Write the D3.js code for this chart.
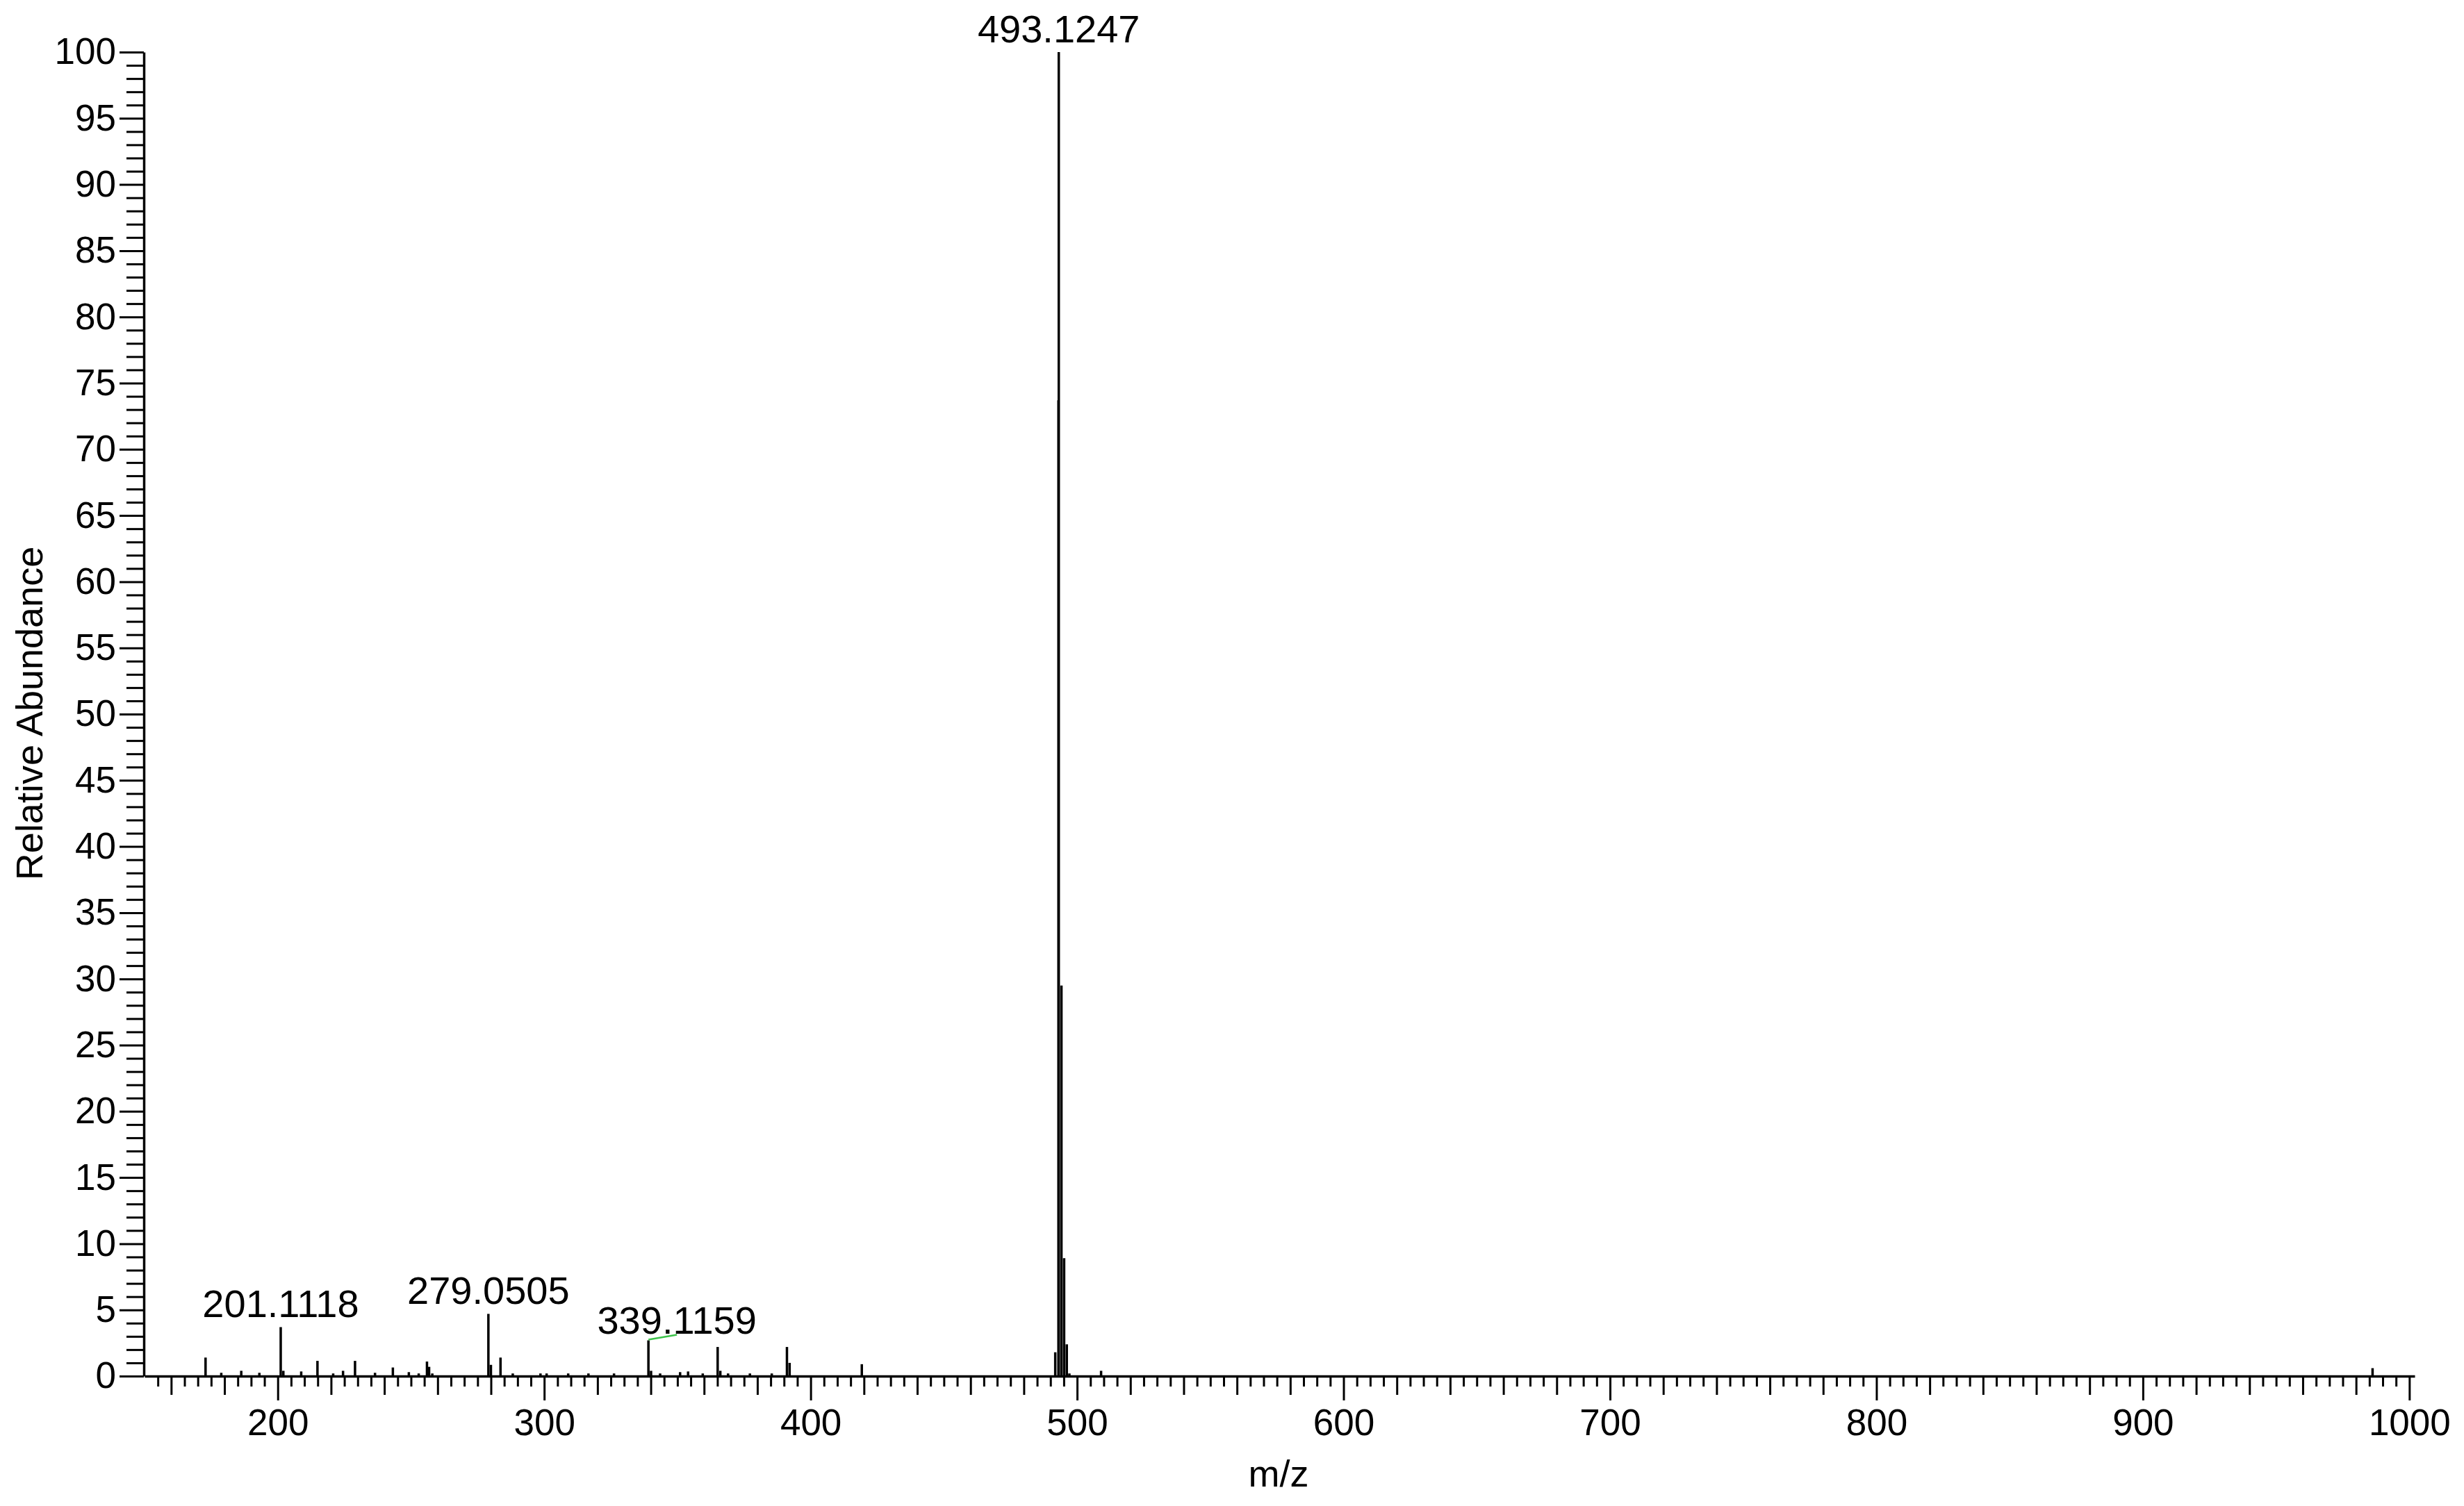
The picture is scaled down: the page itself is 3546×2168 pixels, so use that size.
<!DOCTYPE html>
<html>
<head>
<meta charset="utf-8">
<script src="https://cdn.jsdelivr.net/npm/d3@7"></script>
<style>
  body { margin: 0; background: #fff; }
  svg text { font-family: "Liberation Sans", Arial, Helvetica, sans-serif; fill: #000; }
</style>
</head>
<body>
<div id="chart"></div>
<script>
// spectrum sticks (m/z, relative abundance %)
const mzValues = [
  172.9, 178.8, 186.3, 193.1, 201.1118, 202.1, 208.8, 214.9, 220.8, 224.5,
  229.0, 236.5, 243.2, 249.2, 252.9, 256.0, 256.8, 258.0, 279.0505, 280.0,
  283.6, 288.2, 298.6, 300.9, 309.0, 316.6, 326.2, 339.1159, 340.1, 343.5,
  351.0, 354.0, 359.5, 365.1, 366.1, 369.0, 377.2, 385.4, 391.1, 392.1,
  419.2, 491.8, 493.0, 493.1247, 494.13, 495.13, 496.13, 497.1, 509.0, 986.2
];
const abundance = [
  1.4, 0.25, 0.4, 0.25, 3.7, 0.4, 0.35, 1.15, 0.2, 0.4,
  1.15, 0.25, 0.65, 0.3, 0.2, 1.1, 0.7, 0.2, 4.7, 0.85,
  1.4, 0.2, 0.2, 0.2, 0.2, 0.2, 0.2, 2.7, 0.4, 0.2,
  0.3, 0.35, 0.2, 2.2, 0.4, 0.2, 0.2, 0.2, 2.2, 1.0,
  0.9, 1.8, 73.7, 100, 29.5, 8.9, 2.4, 0.2, 0.4, 0.6
];
// peaks that carry an m/z label
const labelledMz = [201.1118, 279.0505, 339.1159, 493.1247];

const xMajorTicks = d3.range(200, 1001, 100);
const yMajorTicks = d3.range(0, 101, 5);

const width = 3546;
const height = 2168;

const svg = d3.select("#chart")
    .append("svg")
    .attr("width", width)
    .attr("height", height);

svg.append("rect").attr("width", width).attr("height", height).attr("fill", "#fff");

const x = d3.scaleLinear().domain([150, 1002]).range([208, 3475]);
const y = d3.scaleLinear().domain([0, 100]).range([1981, 75]);

const fontSize = 53;

// x axis: minor every 5, medium every 20, major every 100
const xMinor = d3.range(155, 1001, 5).filter(v => v % 20 !== 0 && v % 100 !== 0);
const xMedium = d3.range(160, 1001, 20).filter(v => v % 100 !== 0);

function styleAxis(g) {
    g.selectAll("path").attr("stroke", "#000").attr("stroke-width", 3.5);
    g.selectAll("line").attr("stroke", "#000").attr("stroke-width", 3);
}

svg.append("g")
    .attr("transform", `translate(0,${y(0)})`)
    .call(d3.axisBottom(x).tickValues(xMinor).tickSize(15).tickSizeOuter(0).tickFormat(""))
    .call(styleAxis);

svg.append("g")
    .attr("transform", `translate(0,${y(0)})`)
    .call(d3.axisBottom(x).tickValues(xMedium).tickSize(27).tickSizeOuter(0).tickFormat(""))
    .call(styleAxis)
    .select(".domain").remove();

const xAxis = svg.append("g")
    .attr("transform", `translate(0,${y(0)})`)
    .call(d3.axisBottom(x).tickValues(xMajorTicks).tickSize(35).tickPadding(12)
        .tickSizeOuter(0).tickFormat(d3.format("d")))
    .call(styleAxis);
xAxis.select(".domain").remove();
xAxis.selectAll("text").attr("font-size", fontSize).attr("font-family", null);

// y axis: minor every 1, major every 5
const yMinor = d3.range(0, 101, 1).filter(v => v % 5 !== 0);
svg.append("g")
    .attr("transform", `translate(${x(150) - 1},0)`)
    .call(d3.axisLeft(y).tickValues(yMinor).tickSize(25).tickSizeOuter(0).tickFormat(""))
    .call(styleAxis);

const yAxis = svg.append("g")
    .attr("transform", `translate(${x(150) - 1},0)`)
    .call(d3.axisLeft(y).tickValues(yMajorTicks).tickSize(35).tickPadding(5).tickSizeOuter(0))
    .call(styleAxis);
yAxis.select(".domain").remove();
yAxis.selectAll("text").attr("font-size", fontSize).attr("font-family", null);

// sticks
svg.append("g")
    .selectAll("line")
    .data(mzValues)
    .enter().append("line")
    .attr("x1", d => x(d))
    .attr("x2", d => x(d))
    .attr("y1", y(0))
    .attr("y2", (d, i) => y(abundance[i]))
    .attr("stroke", "#000")
    .attr("stroke-width", 3.5);

// peak labels
const fmt = d3.format(".4f");
labelledMz.forEach(function (mz) {
    const v = abundance[mzValues.indexOf(mz)];
    const px = x(mz), py = y(v);
    // the 339 label is pushed right of its peak with a leader line
    const shifted = mz === 339.1159;
    const dx = shifted ? 41 : 0;
    if (shifted) {
        svg.append("line")
            .attr("x1", px).attr("y1", py - 1)
            .attr("x2", px + dx).attr("y2", py - 8)
            .attr("stroke", "#3cc34a")
            .attr("stroke-width", 2.5);
    }
    svg.append("text")
        .attr("x", px + dx)
        .attr("y", py - (shifted ? 10 : 14))
        .attr("text-anchor", "middle")
        .attr("font-size", 56)
        .text(fmt(mz));
});

// axis titles
svg.append("text")
    .attr("x", 1840)
    .attr("y", 2140)
    .attr("text-anchor", "middle")
    .attr("font-size", fontSize + 1)
    .text("m/z");

svg.append("text")
    .attr("transform", "translate(61,1027) rotate(-90)")
    .attr("text-anchor", "middle")
    .attr("font-size", fontSize + 1)
    .text("Relative Abundance");
</script>
</body>
</html>
